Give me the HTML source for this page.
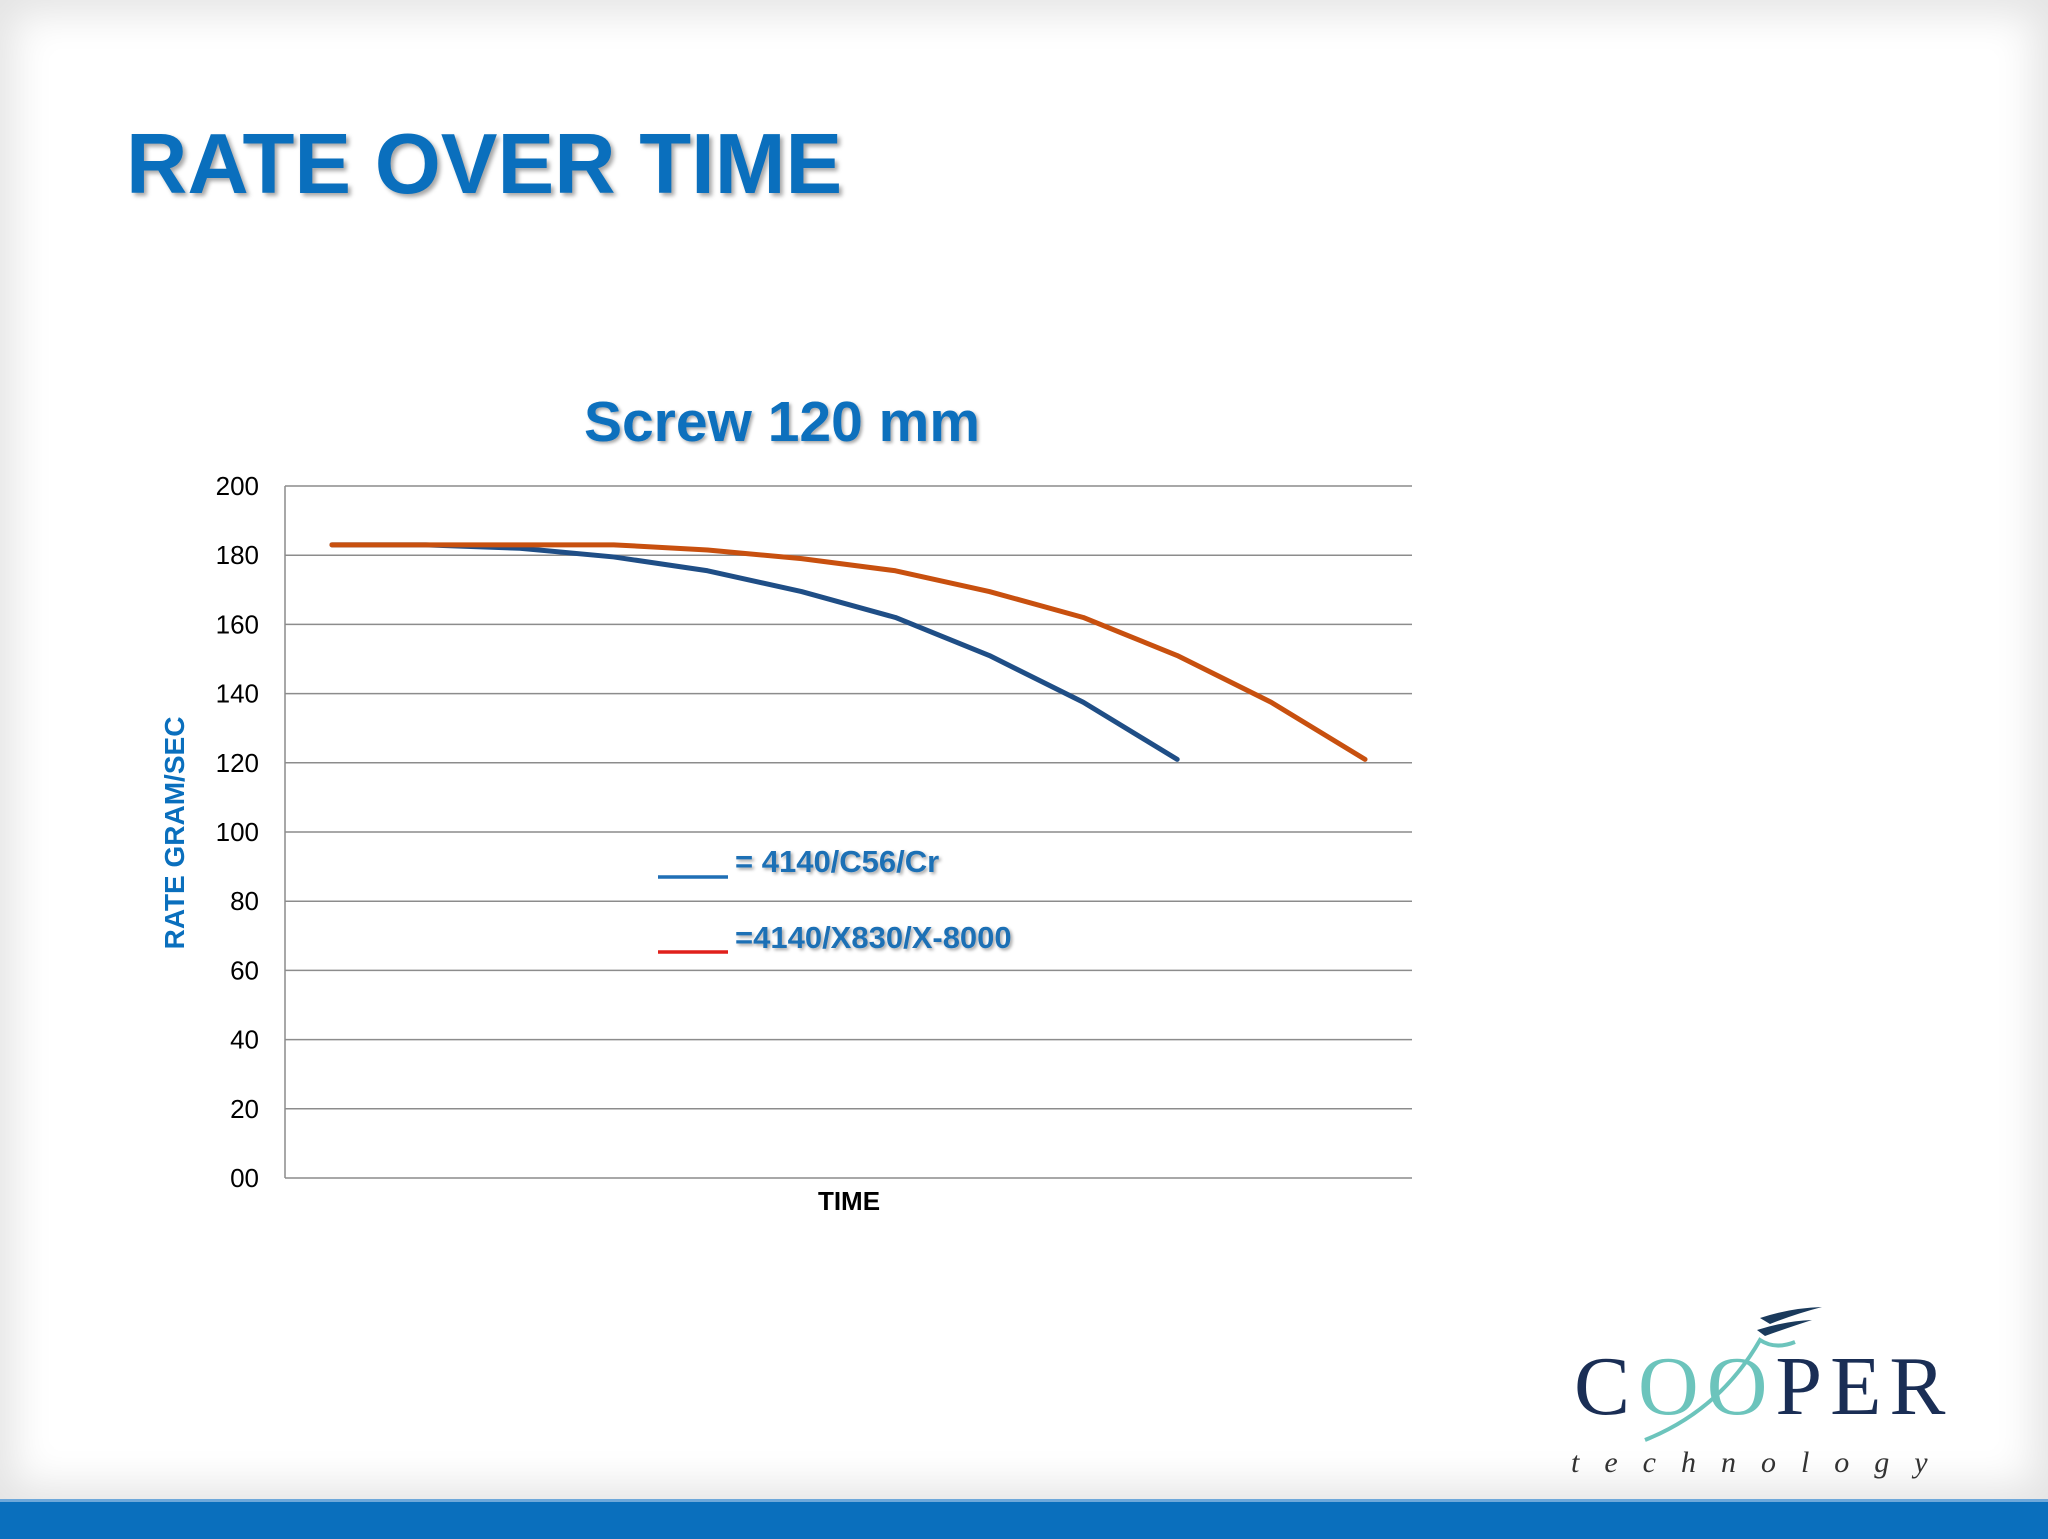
<!DOCTYPE html>
<html><head><meta charset="utf-8">
<style>
html,body{margin:0;padding:0}
body{width:2048px;height:1536px;position:relative;overflow:hidden;background:#fff;font-family:"Liberation Sans",sans-serif}
#bg{position:absolute;left:0;top:0;width:2048px;height:1500px;background:#fff;box-shadow:inset 0 0 40px 14px #e4e4e4}
#bar{position:absolute;left:0;top:1499px;width:2048px;height:37px;background:#0a6fbd;border-top:3px solid #6ea8da}
#title{position:absolute;left:126px;top:116px;font-size:85px;font-weight:bold;color:#0a6fbd;text-shadow:3px 3px 4px rgba(0,0,0,0.35);white-space:nowrap}
svg{position:absolute;left:0;top:0}
</style></head><body>
<div id="bg"></div>
<div id="title">RATE OVER TIME</div>
<svg width="2048" height="1536">
<defs><filter id="sh" x="-10%" y="-30%" width="130%" height="160%"><feDropShadow dx="2" dy="2" stdDeviation="1.5" flood-color="#000" flood-opacity="0.35"/></filter></defs>
<g id="grid"></g>
<g id="yt"></g>
<g id="lines"></g>
<text x="782" y="441" text-anchor="middle" font-size="57" font-weight="bold" fill="#0a6fbd" filter="url(#sh)">Screw 120 mm</text>
<text transform="translate(184,833) rotate(-90)" text-anchor="middle" font-size="28" font-weight="bold" fill="#0a6fbd">RATE GRAM/SEC</text>
<text x="849" y="1210" text-anchor="middle" font-size="26" font-weight="bold" fill="#000">TIME</text>
<g>
<line x1="658" y1="877" x2="728" y2="877" stroke="#1f6fb5" stroke-width="3.5"/>
<text x="735" y="872" font-size="31" font-weight="bold" fill="#1f6fb5" filter="url(#sh)">= 4140/C56/Cr</text>
<line x1="658" y1="952" x2="728" y2="952" stroke="#e0201b" stroke-width="3.5"/>
<text x="735" y="948" font-size="31" font-weight="bold" fill="#1f6fb5" filter="url(#sh)">=4140/X830/X-8000</text>
</g>
<g>
<path d="M1760 1318 Q1790 1308 1822 1307 Q1795 1314 1770 1324 Z M1757 1330 Q1785 1321 1812 1320 Q1790 1327 1765 1336 Z" fill="#1a3a5c"/>
<path d="M1645 1440 Q1720 1410 1760 1340 Q1775 1350 1795 1342" fill="none" stroke="#6cc4bc" stroke-width="4"/>
<text x="1574" y="1414" font-family="Liberation Serif,serif" font-size="84" fill="#1a2e55" letter-spacing="8">C<tspan fill="#6cc4bc">OO</tspan>PER</text>
<text x="1571" y="1472" font-family="Liberation Serif,serif" font-style="italic" font-size="30" fill="#333" letter-spacing="25">technology</text>
</g>
</svg>
<div id="bar"></div>
<script>
const yTicks=[0,20,40,60,80,100,120,140,160,180,200];
const yTickLabels=["00","20","40","60","80","100","120","140","160","180","200"];
const nCats=12;
const blueValues=[183,183,182,179.5,175.5,169.5,162,151,137.5,121];
const orangeValues=[183,183,183,183,181.5,179,175.5,169.5,162,151,137.5,121];
const L=285,R=1412,T=486,B=1178;
const ys=v=>B-(v/200)*(B-T);
const xs=i=>L+(i+0.5)*(R-L)/nCats;
const NS="http://www.w3.org/2000/svg";
const g=document.getElementById('grid'),yt=document.getElementById('yt'),ln=document.getElementById('lines');
yTicks.forEach((t,i)=>{
 const l=document.createElementNS(NS,'line');
 l.setAttribute('x1',L);l.setAttribute('x2',R);l.setAttribute('y1',ys(t));l.setAttribute('y2',ys(t));
 l.setAttribute('stroke','#8c8c8c');l.setAttribute('stroke-width','1.5');
 
 
 g.appendChild(l);
 const tx=document.createElementNS(NS,'text');
 tx.setAttribute('x',259);tx.setAttribute('y',ys(t)+9);tx.setAttribute('text-anchor','end');
 tx.setAttribute('font-size','26');tx.setAttribute('fill','#000');
 tx.textContent=yTickLabels[i];
 
 
 yt.appendChild(tx);
});
const ax=document.createElementNS(NS,'line');
ax.setAttribute('x1',L);ax.setAttribute('x2',L);ax.setAttribute('y1',T);ax.setAttribute('y2',B);
ax.setAttribute('stroke','#8c8c8c');ax.setAttribute('stroke-width','1.5');


g.appendChild(ax);
function drawLine(vals,color,name){
 const p=document.createElementNS(NS,'polyline');
 p.setAttribute('points',vals.map((v,i)=>xs(i)+','+ys(v)).join(' '));
 p.setAttribute('fill','none');p.setAttribute('stroke',color);p.setAttribute('stroke-width','5');
 p.setAttribute('stroke-linejoin','round');p.setAttribute('stroke-linecap','round');
 
 
 ln.appendChild(p);
}
drawLine(blueValues,'#1f4e86','series-4140-c56-cr');
drawLine(orangeValues,'#c8500f','series-4140-x830-x8000');
</script>
</body></html>
